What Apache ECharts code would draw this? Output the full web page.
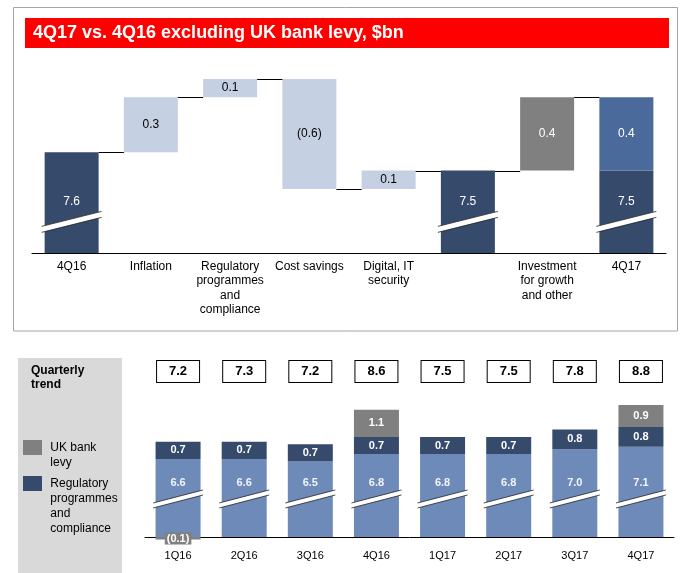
<!DOCTYPE html>
<html>
<head>
<meta charset="utf-8">
<script src="https://cdn.jsdelivr.net/npm/echarts@6/dist/echarts.min.js"></script>
<style>
  html, body { margin: 0; padding: 0; background: #fff; }
  #chart { width: 681px; height: 573px; }
</style>
</head>
<body>
<div id="chart"></div>
<script>
// 4Q17 vs 4Q16 waterfall ($bn)
const wfCats = ['4Q16', 'Inflation', 'Regulatory\nprogrammes\nand\ncompliance', 'Cost savings',
  'Digital, IT\nsecurity', '', 'Investment\nfor growth\nand other', '4Q17'];
const wfTotals = [7.6, null, null, null, null, 7.5, null, 7.5];
const wfDeltas = [null, 0.3, 0.1, -0.6, 0.1, null, 0.4, null];
const wfTopUp = [null, null, null, null, null, null, null, 0.4];

// quarterly trend ($bn)
const quarters = ['1Q16', '2Q16', '3Q16', '4Q16', '1Q17', '2Q17', '3Q17', '4Q17'];
const qBase = [6.6, 6.6, 6.5, 6.8, 6.8, 6.8, 7.0, 7.1];
const qReg = [0.7, 0.7, 0.7, 0.7, 0.7, 0.7, 0.8, 0.8];
const qLevy = [-0.1, null, null, 1.1, null, null, null, 0.9];
const qTotals = [7.2, 7.3, 7.2, 8.6, 7.5, 7.5, 7.8, 8.8];

const FONT = '"Liberation Sans", Arial, sans-serif';
const NAVY = '#364A6B', LIGHT = '#C5D0E2', GREY = '#808080', MID = '#4A6A9B', STEEL = '#6D8AB8';
const WF_MIN = 7.05, Q_MIN = 3.43;
const WF_BREAK = 7.22, Q_BREAK = 4.975;

const fmt = v => v < 0 ? '(' + (-v).toFixed(1) + ')' : v.toFixed(1);

// waterfall helpers: invisible offset, visible delta, running level
let run = 0;
const offset = [], deltaItems = [], levels = [];
wfCats.forEach((c, i) => {
  if (wfTotals[i] != null) {
    run = +(wfTotals[i] + (wfTopUp[i] || 0)).toFixed(2);
    offset.push('-');
    deltaItems.push('-');
  } else {
    const d = wfDeltas[i];
    const next = +(run + d).toFixed(2);
    offset.push(Math.min(run, next));
    const isInvest = i === 6;
    deltaItems.push({
      value: Math.abs(d),
      itemStyle: { color: isInvest ? GREY : LIGHT },
      label: { color: isInvest ? '#fff' : '#000' }
    });
    run = next;
  }
  levels.push(run);
});
const connectors = levels.slice(0, -1).map((lv, i) => [i, lv]);
const wfBreaks = wfTotals.map((v, i) => v != null ? [i, WF_BREAK] : null).filter(Boolean);
const qBreaks = quarters.map((q, i) => [i, Q_BREAK]);
const qNeg = qLevy.map((v, i) => v != null && v < 0 ? [i, v] : null).filter(Boolean);

// legend text starts level with the swatch: pad the top with blank lines
const topAligned = name => {
  const lines = name.split('\n');
  return '\n'.repeat(lines.length - 1) + lines.map(l => ' ' + l).join('\n');
};

function breakMark(hw, rise, thick) {
  return function (params, api) {
    const p = api.coord([api.value(0), api.value(1)]);
    const x0 = p[0] - hw, x1 = p[0] + hw;
    const yl = p[1] + rise / 2, yr = p[1] - rise / 2, h = thick / 2;
    return {
      type: 'group',
      children: [
        { type: 'polygon', shape: { points: [[x0, yl - h], [x1, yr - h], [x1, yr + h], [x0, yl + h]] }, style: { fill: '#fff' } },
        { type: 'line', shape: { x1: x0, y1: yl - h, x2: x1, y2: yr - h }, style: { stroke: '#222', lineWidth: 0.8 } },
        { type: 'line', shape: { x1: x0, y1: yl + h, x2: x1, y2: yr + h }, style: { stroke: '#222', lineWidth: 0.8 } }
      ]
    };
  };
}

const chart = echarts.init(document.getElementById('chart'));

const option = {
  animation: false,
  backgroundColor: '#fff',
  textStyle: { fontFamily: FONT },
  title: [
    {
      text: '4Q17 vs. 4Q16 excluding UK bank levy, $bn',
      left: 33, top: 24, padding: 0,
      textStyle: { color: '#fff', fontSize: 18, fontWeight: 'bold', fontFamily: FONT }
    },
    {
      text: 'Quarterly\ntrend',
      left: 31, top: 364, padding: 0,
      textStyle: { color: '#000', fontSize: 12, fontWeight: 'bold', lineHeight: 14, fontFamily: FONT }
    }
  ],
  graphic: [
    { type: 'rect', z: -10, shape: { x: 13.5, y: 7.5, width: 664, height: 323.5 }, style: { fill: 'none', stroke: '#A6A6A6', lineWidth: 1 } },
    { type: 'rect', z: -9, shape: { x: 25, y: 18, width: 644, height: 30 }, style: { fill: '#FF0000' } },
    { type: 'rect', z: -9, shape: { x: 18, y: 358, width: 104, height: 215 }, style: { fill: '#D9D9D9' } }
  ],
  legend: [
    {
      data: ['UK bank\nlevy'], left: 23, top: 425, padding: 0, orient: 'vertical',
      icon: 'rect', itemWidth: 19, itemHeight: 15, selectedMode: false, formatter: topAligned,
      textStyle: { fontSize: 12, lineHeight: 15, color: '#000', fontFamily: FONT }
    },
    {
      data: ['Regulatory\nprogrammes\nand\ncompliance'], left: 23, top: 431, padding: 0, orient: 'vertical',
      icon: 'rect', itemWidth: 19, itemHeight: 15, selectedMode: false, formatter: topAligned,
      textStyle: { fontSize: 12, lineHeight: 15, color: '#000', fontFamily: FONT }
    }
  ],
  grid: [
    { left: 32, right: 15, top: 79, bottom: 320, outerBoundsMode: 'none' },
    { left: 145, right: 7, top: 400, bottom: 36, outerBoundsMode: 'none' }
  ],
  xAxis: [
    {
      gridIndex: 0, type: 'category', data: wfCats,
      axisLine: { lineStyle: { color: '#000', width: 1 } },
      axisTick: { show: false },
      axisLabel: { interval: 0, margin: 6, color: '#000', fontSize: 12, lineHeight: 14.5, fontFamily: FONT }
    },
    {
      gridIndex: 1, type: 'category', data: quarters,
      axisLine: { lineStyle: { color: '#000', width: 1 } },
      axisTick: { show: false },
      axisLabel: { interval: 0, margin: 13, color: '#000', fontSize: 11, fontFamily: FONT }
    },
    {
      gridIndex: 1, type: 'category', data: quarters, position: 'top',
      axisLine: { show: false }, axisTick: { show: false },
      axisLabel: {
        interval: 0, margin: 18,
        formatter: (v, i) => qTotals[i].toFixed(1),
        width: 42, height: 21, lineHeight: 21, align: 'center',
        borderColor: '#000', borderWidth: 1, backgroundColor: '#fff',
        color: '#000', fontSize: 13, fontWeight: 'bold', fontFamily: FONT
      }
    }
  ],
  yAxis: [
    { gridIndex: 0, type: 'value', min: WF_MIN, max: 8.0, show: false },
    { gridIndex: 1, type: 'value', min: Q_MIN, max: 9.0, show: false }
  ],
  series: [
    {
      name: 'offset', type: 'bar', stack: 'wf', xAxisIndex: 0, yAxisIndex: 0, barWidth: 54,
      silent: true, itemStyle: { color: 'transparent' }, data: offset
    },
    {
      name: 'total', type: 'bar', stack: 'wf', xAxisIndex: 0, yAxisIndex: 0, barWidth: 54,
      itemStyle: { color: NAVY },
      label: { show: true, position: 'insideBottom', distance: 45, color: '#fff', fontSize: 12, fontFamily: FONT, formatter: p => fmt(p.value) },
      data: wfTotals.map(v => v == null ? '-' : v)
    },
    {
      name: 'change', type: 'bar', stack: 'wf', xAxisIndex: 0, yAxisIndex: 0, barWidth: 54,
      label: { show: true, position: 'inside', fontSize: 12, fontFamily: FONT, formatter: p => fmt(wfDeltas[p.dataIndex]) },
      data: deltaItems
    },
    {
      name: 'levy top', type: 'bar', stack: 'wf', xAxisIndex: 0, yAxisIndex: 0, barWidth: 54,
      itemStyle: { color: MID },
      label: { show: true, position: 'inside', color: '#fff', fontSize: 12, fontFamily: FONT, formatter: p => fmt(p.value) },
      data: wfTopUp.map(v => v == null ? '-' : v)
    },
    {
      name: 'connectors', type: 'custom', xAxisIndex: 0, yAxisIndex: 0, silent: true, z: 3,
      renderItem: (params, api) => {
        const p = api.coord([api.value(0), api.value(1)]);
        const band = api.size([1, 0])[0];
        const y = Math.round(p[1]) + 0.5;
        return { type: 'line', shape: { x1: p[0] + 27, y1: y, x2: p[0] + band - 27, y2: y }, style: { stroke: '#000', lineWidth: 1 } };
      },
      data: connectors
    },
    {
      name: 'wf breaks', type: 'custom', xAxisIndex: 0, yAxisIndex: 0, silent: true, z: 3,
      renderItem: breakMark(30, 15, 6), data: wfBreaks
    },
    {
      name: 'other', type: 'bar', stack: 'q', xAxisIndex: 1, yAxisIndex: 1, barWidth: 45,
      itemStyle: { color: STEEL },
      label: { show: true, position: 'insideBottom', distance: 49, color: '#F2F4F8', fontSize: 11, fontWeight: 'bold', fontFamily: FONT, formatter: p => fmt(p.value) },
      data: qBase
    },
    {
      name: 'Regulatory\nprogrammes\nand\ncompliance', type: 'bar', stack: 'q', xAxisIndex: 1, yAxisIndex: 1, barWidth: 45,
      itemStyle: { color: NAVY },
      label: { show: true, position: 'inside', color: '#fff', fontSize: 11, fontWeight: 'bold', fontFamily: FONT, formatter: p => fmt(p.value) },
      data: qReg
    },
    {
      name: 'UK bank\nlevy', type: 'bar', stack: 'q', xAxisIndex: 1, yAxisIndex: 1, barWidth: 45,
      itemStyle: { color: GREY },
      label: { show: true, position: 'inside', color: '#fff', fontSize: 11, fontWeight: 'bold', fontFamily: FONT, formatter: p => fmt(p.value) },
      data: qLevy.map(v => v != null && v > 0 ? v : '-')
    },
    {
      name: 'levy credit', type: 'custom', xAxisIndex: 1, yAxisIndex: 1, silent: true, z: 4,
      renderItem: (params, api) => {
        const v = api.value(1);
        const p = api.coord([api.value(0), Q_MIN]);
        const h = api.size([0, -v])[1];
        return {
          type: 'group',
          children: [
            { type: 'rect', shape: { x: p[0] - 22.5, y: p[1], width: 45, height: h }, style: { fill: GREY } },
            {
              type: 'text',
              style: {
                text: fmt(v), x: p[0], y: p[1] + 1.5, align: 'center', verticalAlign: 'middle',
                fill: '#fff', font: 'bold 11px ' + FONT, backgroundColor: GREY, padding: [1, 2, 0, 2]
              }
            }
          ]
        };
      },
      data: qNeg
    },
    {
      name: 'q breaks', type: 'custom', xAxisIndex: 1, yAxisIndex: 1, silent: true, z: 3,
      renderItem: breakMark(25, 13, 5), data: qBreaks
    }
  ]
};

chart.setOption(option);
</script>
</body>
</html>
